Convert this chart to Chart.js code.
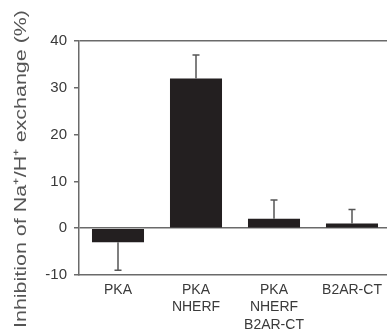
<!DOCTYPE html>
<html>
<head>
<meta charset="utf-8">
<script src="https://cdn.jsdelivr.net/npm/chart.js@4"></script>
<style>
html,body{margin:0;padding:0;background:#fff;overflow:hidden;width:387px;height:333px;}
#wrap{width:391px;height:333px;}
</style>
</head>
<body>
<div id="wrap"><canvas id="c" width="391" height="333"></canvas></div>
<script>
const categories = [["PKA"], ["PKA", "NHERF"], ["PKA", "NHERF", "B2AR-CT"], ["B2AR-CT"]];
const inhibition = [-3, 32, 2, 1];
const errors = [6, 5, 4, 3];
const yTicks = [-10, 0, 10, 20, 30, 40];
const yTitle = "Inhibition of Na\u207A/H\u207A exchange (%)";

const LINE = '#6a6a6a';
const TEXT = '#3a3a3a';

const errorBars = {
  id: 'errorBars',
  afterDatasetsDraw(chart) {
    const ctx = chart.ctx;
    const y = chart.scales.y;
    const meta = chart.getDatasetMeta(0);
    ctx.save();
    ctx.strokeStyle = '#555';
    ctx.lineWidth = 1.5;
    meta.data.forEach((bar, i) => {
      const v = inhibition[i];
      const e = errors[i];
      const end = v >= 0 ? v + e : v - e;
      const y0 = y.getPixelForValue(v);
      const y1 = y.getPixelForValue(end);
      ctx.beginPath();
      ctx.moveTo(bar.x, y0);
      ctx.lineTo(bar.x, y1);
      ctx.moveTo(bar.x - 3.5, y1);
      ctx.lineTo(bar.x + 3.5, y1);
      ctx.stroke();
    });
    ctx.restore();
  }
};

const yTitlePlugin = {
  id: 'yTitlePlugin',
  afterDraw(chart) {
    const ctx = chart.ctx;
    ctx.save();
    ctx.font = '17px "Liberation Sans", Arial, sans-serif';
    ctx.fillStyle = '#555';
    ctx.textAlign = 'left';
    ctx.textBaseline = 'alphabetic';
    const w = ctx.measureText(yTitle).width;
    ctx.translate(26, 328);
    ctx.rotate(-Math.PI / 2);
    ctx.scale(318 / w, 1);
    ctx.fillText(yTitle, 0, 0);
    ctx.restore();
  }
};

new Chart(document.getElementById('c'), {
  type: 'bar',
  data: {
    labels: categories,
    datasets: [{
      data: inhibition,
      backgroundColor: '#231f20',
      borderWidth: 0,
      barPercentage: 0.667,
      categoryPercentage: 1.0
    }]
  },
  options: {
    responsive: false,
    animation: false,
    devicePixelRatio: 1,
    layout: { padding: { top: 41, left: 0, right: 0, bottom: 0 } },
    plugins: { legend: { display: false }, tooltip: { enabled: false }, title: { display: false } },
    scales: {
      x: {
        grid: { display: false },
        border: { display: true, color: LINE, width: 1.5 },
        ticks: {
          color: TEXT,
          padding: -2,
          maxRotation: 0,
          autoSkip: false,
          font: { family: '"Liberation Sans", Arial, sans-serif', size: 14, lineHeight: 1.26 }
        },
        afterFit(scale) { scale.height = 58; }
      },
      y: {
        min: -10,
        max: 40,
        afterBuildTicks(scale) { scale.ticks = yTicks.map(v => ({ value: v })); },
        grid: {
          drawOnChartArea: true,
          drawTicks: true,
          tickLength: 5,
          lineWidth: 1.5,
          color: (c) => (c.tick && (c.tick.value === 0 || c.tick.value === 40)) ? LINE : 'rgba(0,0,0,0)',
          tickColor: LINE,
          tickWidth: 1.5
        },
        border: { display: true, color: LINE, width: 1.5 },
        ticks: {
          color: TEXT,
          padding: 7,
          font: { family: '"Liberation Sans", Arial, sans-serif', size: 15 }
        },
        title: { display: false, text: yTitle },
        afterFit(scale) { scale.width = 79; }
      }
    }
  },
  plugins: [errorBars, yTitlePlugin]
});
</script>
</body>
</html>
